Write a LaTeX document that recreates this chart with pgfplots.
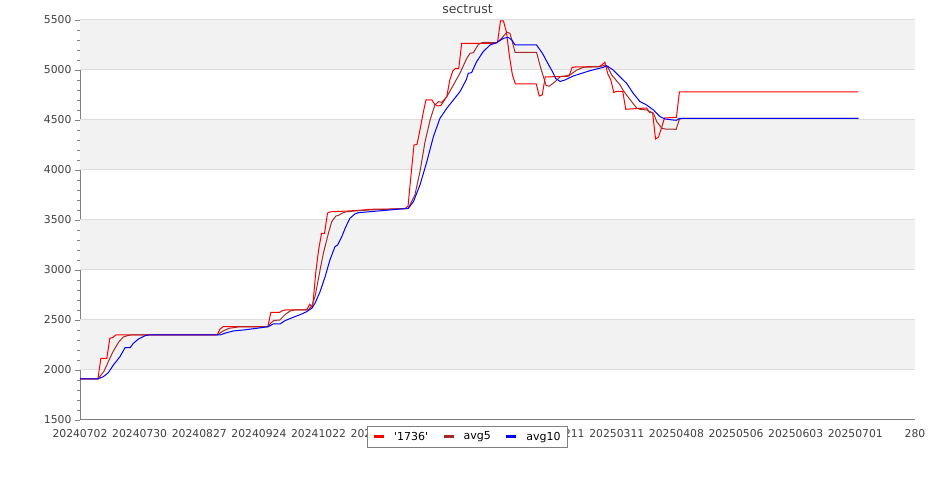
\documentclass[border=0pt]{standalone}
\usepackage{fontspec}
\setmainfont{DejaVu Sans}
\usepackage{pgfplots}
\pgfplotsset{compat=1.18}

\definecolor{bandgray}{RGB}{242,242,242}
\definecolor{gridgray}{RGB}{221,221,221}
\definecolor{axisgray}{RGB}{128,128,128}
\definecolor{txtgray}{RGB}{64,64,64}
\definecolor{avgbrown}{RGB}{165,42,42}

\begin{document}
\begin{tikzpicture}[x=1pt,y=1pt]
\path[fill=white,use as bounding box] (0,0) rectangle (935,500);
\begin{axis}[
    at={(80pt,80pt)}, anchor=south west,
    scale only axis, width=835pt, height=400pt,
    xmin=0, xmax=280, ymin=1500, ymax=5500,
    axis x line*=bottom, axis y line*=left,
    axis line style={axisgray, line width=1pt},
    xtick={0,20,...,280},
    xticklabels={20240702,20240730,20240827,20240924,20241022,20241119,20241217,
                 20250114,20250211,20250311,20250408,20250506,20250603,20250701,280},
    ytick={1500,2000,...,5500},
    minor y tick num=4,
    tick align=outside,
    major tick length=5pt, minor tick length=2.7pt,
    y tick style={axisgray, line width=0.8pt},
    x tick style={draw=none},
    tick label style={font=\fontsize{10.8}{12}\selectfont, text=txtgray},
    xticklabel style={yshift=-1pt},
    /pgf/number format/.cd, 1000 sep={}, assume math mode=true,
    /pgfplots/.cd,
    scaled y ticks=false,
    legend columns=3,
    legend style={at={(0.4641,-0.015)}, anchor=north, draw=axisgray,
                  line width=0.8pt, fill=white, text=black,
                  font=\fontsize{11}{13}\selectfont,
                  inner xsep=5pt, inner ysep=3.5pt,
                  /tikz/every odd column/.append style={column sep=6.5pt},
                  /tikz/every even column/.append style={column sep=12pt}},
    legend image code/.code={\draw[#1,line width=3pt] (0pt,0pt) -- (10pt,0pt);},
  ]
  % alternating bands and horizontal grid
  \fill[bandgray] (axis cs:0,2000) rectangle (axis cs:280,2500);
  \fill[bandgray] (axis cs:0,3000) rectangle (axis cs:280,3500);
  \fill[bandgray] (axis cs:0,4000) rectangle (axis cs:280,4500);
  \fill[bandgray] (axis cs:0,5000) rectangle (axis cs:280,5500);
  \pgfplotsinvokeforeach{2000,2500,...,5500}{
    \draw[gridgray, line width=1pt] (axis cs:0,#1) -- (axis cs:280,#1);
  }

  % '1736'
  \addplot[red, line width=1pt] coordinates {
    (0,1910) (6,1910) (7,2117) (9,2117) (10,2317) (11,2325) (12,2350)
    (46,2350) (47,2410) (48,2433) (63,2433) (64,2577) (67,2577) (68,2595)
    (69,2600) (76,2600) (77,2657) (78,2625) (79,2960) (80,3200) (81,3367)
    (82,3367) (83,3570) (84,3582) (90,3590) (95,3600) (97,3607) (109,3612)
    (110,3640) (111,3950) (112,4250) (113,4255) (114,4400) (115,4560)
    (116,4700) (118,4700) (119,4655) (120,4640) (121,4645) (122,4690)
    (123,4735) (124,4900) (125,4990) (126,5017) (127,5017) (128,5267)
    (139,5267) (140,5275) (141,5490) (142,5490) (143,5380) (144,5140)
    (145,4950) (146,4860) (153,4860) (154,4740) (155,4750) (156,4930)
    (164,4938) (165,5025) (166,5030) (174,5035) (175,5050) (176,5078)
    (177,4960) (178,4900) (179,4775) (180,4787) (182,4787) (183,4607)
    (187,4615) (190,4620) (191,4575) (192,4575) (193,4310) (194,4330)
    (195,4420) (196,4520) (200,4527) (201,4780) (261,4780)
  };
  \addlegendentry{\textquotesingle 1736\textquotesingle}

  % avg5
  \addplot[avgbrown, line width=1pt] coordinates {
    (0,1910) (6,1910) (8,1985) (9.5,2083) (11,2180) (13,2280) (14.5,2330)
    (16,2345) (17,2350) (46,2350) (48,2390) (50,2417) (53,2430) (63,2433)
    (64,2470) (65,2495) (67,2500) (69,2560) (70.5,2590) (72,2600)
    (76.5,2600) (77.7,2640) (78.8,2733) (80.5,3000) (81.6,3167)
    (83.3,3367) (84.4,3483) (85.8,3540) (86.6,3545) (87.8,3567) (89,3580)
    (92,3590) (97,3600) (110,3615) (112.3,3750) (114,3983) (115.7,4283)
    (117.4,4500) (119,4650) (120.2,4683) (121.3,4677) (123,4733)
    (125.2,4850) (127.4,4967) (129.7,5117) (130.8,5167) (131.9,5173)
    (133.6,5257) (135.2,5277) (139.7,5273) (141.4,5317) (143.1,5377)
    (144.2,5367) (145.9,5177) (153.1,5177) (154.3,5040) (156.3,4845)
    (157.4,4838) (159.3,4883) (161,4933) (162.6,4940) (164.3,4950)
    (166.6,5000) (168.8,5027) (174.4,5033) (176.1,5050) (177.2,5017)
    (178.3,4950) (181.1,4850) (182.2,4793) (185,4683) (186.7,4617)
    (187.8,4607) (190,4600) (192.3,4567) (193.4,4483) (195.1,4417)
    (196.2,4410) (199.9,4407) (201,4507) (202,4517) (261,4517)
  };
  \addlegendentry{avg5}

  % avg10
  \addplot[blue, line width=1pt] coordinates {
    (0,1910) (6,1910) (7.8,1933) (9.5,1973) (11.2,2050) (13.4,2133)
    (15.1,2223) (16.8,2223) (17.9,2267) (19.6,2310) (21.8,2343) (23,2350)
    (46.9,2350) (49.2,2373) (51.4,2390) (54.8,2400) (59.3,2417) (63.1,2433)
    (64.8,2460) (67.1,2460) (68.7,2493) (71.5,2527) (73.8,2553) (76,2583)
    (77.7,2617) (78.8,2667) (80.5,2783) (82.2,2933) (83.8,3100) (85.5,3233)
    (86.4,3250) (87.8,3333) (88.9,3417) (90.5,3517) (92.2,3560) (93.3,3573)
    (100,3590) (110.1,3617) (111.8,3683) (114,3850) (116.3,4083)
    (118.5,4333) (120.7,4517) (123,4617) (125.2,4700) (127.4,4783)
    (129.5,4900) (130.2,4967) (131.3,4973) (133,5083) (135.2,5183)
    (137.5,5250) (139.7,5273) (142,5317) (143.6,5327) (144.8,5300)
    (145.9,5250) (153.1,5250) (155,5170) (157,5060) (158.5,4980)
    (159.5,4915) (161,4885) (162.6,4900) (165.4,4940) (171,4993)
    (175.5,5027) (176.6,5043) (178.8,5000) (181,4933) (183.3,4867)
    (185.5,4767) (187.8,4683) (190,4650) (192.3,4600) (194.5,4533)
    (196.2,4510) (198.9,4500) (200,4497) (201,4517) (261,4517)
  };
  \addlegendentry{avg10}
\end{axis}
\node[font=\fontsize{12.5}{14}\selectfont, text=txtgray] at (467.5,491) {sectrust};
\end{tikzpicture}
\end{document}
